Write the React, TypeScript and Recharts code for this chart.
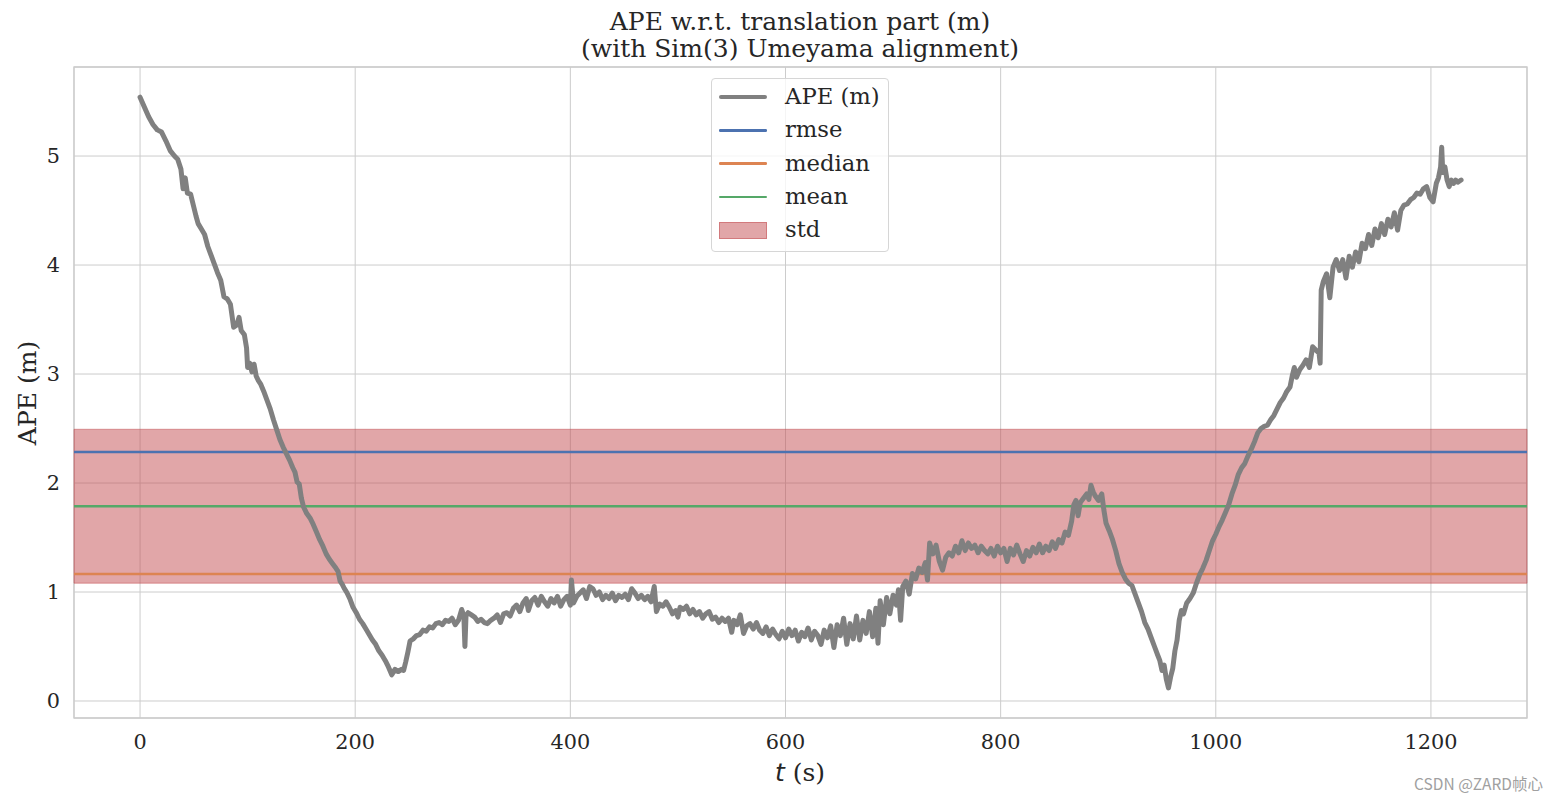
import React from 'react';
import {
  LineChart,
  Line,
  XAxis,
  YAxis,
  CartesianGrid,
  ReferenceArea,
  ReferenceLine,
} from 'recharts';

// APE over time
const times = [
  0, 4, 8, 12, 16, 20, 24, 28, 32, 35, 38, 40, 42, 44, 47, 50, 52, 54, 57, 60, 63, 66, 69, 72, 75, 78, 81, 84, 87, 90,
  92, 94, 97, 99, 100, 102, 104, 106, 108, 110, 112, 115, 118, 121, 124, 127, 130, 133, 136, 139, 142, 144, 146, 148,
  150, 152, 155, 158, 161, 164, 167, 170, 173, 176, 179, 182, 184, 186, 188, 190, 192, 195, 198, 201, 204, 207, 210,
  213, 216, 219, 222, 225, 228, 231, 234, 237, 240, 243, 245, 247, 249, 251, 254, 257, 260, 263, 266, 269, 272, 275,
  278, 281, 284, 287, 290, 293, 296, 299, 301, 302, 303, 305, 308, 311, 314, 317, 320, 323, 326, 329, 332, 335, 338,
  341, 344, 347, 350, 353, 356, 359, 361, 364, 367, 370, 373, 376, 379, 382, 385, 388, 391, 394, 397, 400, 401, 403,
  406, 409, 412, 415, 418, 421, 424, 427, 430, 433, 436, 439, 442, 445, 448, 451, 454, 457, 460, 463, 466, 469, 472,
  475, 478, 480, 483, 486, 489, 492, 495, 498, 500, 502, 505, 508, 511, 514, 517, 520, 523, 526, 529, 532, 535, 538,
  541, 544, 547, 550, 552, 555, 558, 561, 564, 567, 570, 573, 576, 579, 582, 585, 588, 591, 594, 597, 600, 603, 606,
  609, 612, 615, 618, 621, 624, 627, 630, 633, 636, 639, 642, 645, 648, 651, 654, 657, 660, 663, 666, 669, 672, 675,
  678, 681, 684, 686, 688, 691, 694, 697, 700, 703, 705, 707, 709, 712, 715, 718, 721, 724, 727, 730, 732, 734, 737,
  740, 743, 746, 749, 752, 755, 758, 761, 764, 767, 770, 773, 776, 779, 782, 785, 788, 791, 794, 797, 800, 803, 806,
  809, 812, 815, 818, 821, 824, 827, 830, 833, 836, 839, 842, 845, 848, 851, 854, 857, 860, 863, 866, 868, 870, 872,
  874, 877, 880, 882, 884, 886, 888, 891, 894, 896, 898, 901, 904, 907, 910, 913, 916, 919, 922, 925, 928, 931, 934,
  937, 940, 943, 946, 948, 950, 952, 954, 956, 958, 960, 962, 964, 966, 968, 970, 973, 976, 979, 982, 985, 988, 991,
  994, 997, 1000, 1003, 1006, 1009, 1012, 1015, 1018, 1021, 1024, 1027, 1030, 1033, 1036, 1039, 1042, 1045, 1048,
  1051, 1054, 1057, 1060, 1063, 1066, 1069, 1071, 1073, 1075, 1078, 1081, 1084, 1087, 1090, 1093, 1096, 1097, 1098,
  1100, 1103, 1106, 1109, 1112, 1115, 1118, 1121, 1124, 1127, 1130, 1133, 1136, 1139, 1142, 1145, 1148, 1151, 1154,
  1157, 1160, 1163, 1166, 1169, 1172, 1175, 1178, 1181, 1184, 1187, 1190, 1193, 1196, 1199, 1202, 1205, 1207, 1209,
  1210, 1211, 1213, 1215, 1217, 1219, 1221, 1223, 1225, 1228,
];

const apeValues = [
  5.54, 5.45, 5.36, 5.29, 5.24, 5.22, 5.14, 5.05, 5.0, 4.97, 4.88, 4.7, 4.8, 4.66, 4.65, 4.53, 4.45, 4.38, 4.33, 4.28,
  4.17, 4.09, 4.01, 3.93, 3.86, 3.71, 3.69, 3.64, 3.43, 3.45, 3.52, 3.4, 3.36, 3.24, 3.06, 3.1, 3.02, 3.09, 2.98, 2.94,
  2.91, 2.84, 2.76, 2.68, 2.58, 2.49, 2.4, 2.33, 2.27, 2.21, 2.14, 2.1, 2.01, 1.99, 1.86, 1.78, 1.72, 1.68, 1.62, 1.55,
  1.48, 1.42, 1.35, 1.3, 1.26, 1.22, 1.19, 1.1, 1.07, 1.03, 1.0, 0.94, 0.86, 0.81, 0.75, 0.71, 0.66, 0.61, 0.56, 0.52,
  0.46, 0.42, 0.37, 0.31, 0.24, 0.29, 0.27, 0.29, 0.28, 0.36, 0.45, 0.55, 0.57, 0.6, 0.61, 0.65, 0.64, 0.68, 0.67, 0.71,
  0.72, 0.7, 0.74, 0.73, 0.76, 0.7, 0.74, 0.84, 0.78, 0.5, 0.78, 0.81, 0.79, 0.77, 0.73, 0.75, 0.72, 0.71, 0.74, 0.76,
  0.79, 0.72, 0.8, 0.81, 0.78, 0.85, 0.88, 0.82, 0.9, 0.94, 0.83, 0.92, 0.95, 0.88, 0.96, 0.91, 0.87, 0.94, 0.9, 0.96,
  0.87, 0.93, 0.96, 0.88, 1.11, 0.9, 0.96, 0.99, 1.02, 0.94, 1.05, 1.03, 0.97, 1.0, 0.93, 0.97, 0.94, 0.99, 0.92, 0.97,
  0.95, 0.98, 0.93, 1.03, 0.99, 0.94, 0.97, 0.93, 0.96, 0.91, 1.05, 0.82, 0.89, 0.87, 0.91, 0.86, 0.8, 0.83, 0.77,
  0.86, 0.84, 0.87, 0.8, 0.84, 0.79, 0.82, 0.76, 0.8, 0.82, 0.75, 0.77, 0.72, 0.76, 0.73, 0.76, 0.63, 0.74, 0.7, 0.79,
  0.62, 0.69, 0.71, 0.66, 0.72, 0.65, 0.62, 0.68, 0.6, 0.66, 0.61, 0.57, 0.64, 0.58, 0.66, 0.6, 0.65, 0.55, 0.63, 0.59,
  0.67, 0.56, 0.64, 0.6, 0.52, 0.65, 0.58, 0.69, 0.49, 0.7, 0.6, 0.76, 0.52, 0.71, 0.57, 0.78, 0.56, 0.74, 0.62, 0.82,
  0.59, 0.85, 0.53, 0.92, 0.7, 0.95, 0.8, 0.97, 0.88, 1.02, 0.74, 1.05, 1.1, 0.98, 1.17, 1.12, 1.22, 1.18, 1.27, 1.11,
  1.45, 1.35, 1.43, 1.28, 1.2, 1.32, 1.36, 1.33, 1.42, 1.36, 1.47, 1.38, 1.45, 1.4, 1.43, 1.36, 1.42, 1.38, 1.35, 1.4,
  1.33, 1.42, 1.36, 1.4, 1.28, 1.4, 1.34, 1.43, 1.35, 1.28, 1.38, 1.33, 1.41, 1.36, 1.44, 1.36, 1.42, 1.38, 1.46, 1.4,
  1.48, 1.45, 1.55, 1.52, 1.65, 1.8, 1.84, 1.7, 1.82, 1.86, 1.9, 1.85, 1.98, 1.92, 1.88, 1.84, 1.9, 1.75, 1.63, 1.56,
  1.48, 1.38, 1.26, 1.18, 1.12, 1.08, 1.06, 0.98, 0.9, 0.82, 0.72, 0.66, 0.58, 0.5, 0.42, 0.37, 0.28, 0.33, 0.2, 0.12,
  0.22, 0.3, 0.46, 0.56, 0.74, 0.83, 0.8, 0.9, 0.94, 0.99, 1.08, 1.16, 1.22, 1.29, 1.38, 1.47, 1.53, 1.6, 1.66, 1.73,
  1.8, 1.9, 1.98, 2.08, 2.14, 2.18, 2.25, 2.31, 2.38, 2.46, 2.5, 2.52, 2.53, 2.58, 2.62, 2.68, 2.74, 2.78, 2.84, 2.88,
  2.98, 3.06, 2.97, 3.04, 3.08, 3.13, 3.06, 3.25, 3.22, 3.19, 3.1, 3.77, 3.85, 3.92, 3.7, 3.98, 4.05, 3.95, 4.05, 3.88,
  4.08, 3.98, 4.12, 4.03, 4.2, 4.15, 4.28, 4.18, 4.33, 4.25, 4.38, 4.28, 4.42, 4.35, 4.48, 4.32, 4.5, 4.55, 4.56, 4.6,
  4.62, 4.66, 4.65, 4.7, 4.72, 4.62, 4.58, 4.75, 4.8, 4.9, 5.08, 4.85, 4.9, 4.78, 4.72, 4.78, 4.75, 4.78, 4.76, 4.78,
];

// summary statistics
const rmse = 2.284;
const median = 1.165;
const mean = 1.787;
const std = 0.706;

const xTicks = [0, 200, 400, 600, 800, 1000, 1200];
const yTicks = [0, 1, 2, 3, 4, 5];
const xDomain = [-61.4, 1289.3];
const yDomain = [-0.156, 5.817];

const legendItems = [
  { label: 'APE (m)', color: '#808080', kind: 'line', width: 4 },
  { label: 'rmse', color: '#4c72b0', kind: 'line', width: 2.5 },
  { label: 'median', color: '#dd8452', kind: 'line', width: 2.5 },
  { label: 'mean', color: '#55a868', kind: 'line', width: 2.5 },
  { label: 'std', color: '#c44e52', kind: 'patch', width: 0 },
];

const SERIF = '"DejaVu Serif", serif';
const W = 1541;
const H = 785;

const data = times.map((t, i) => ({ t, ape: apeValues[i] }));

function StatLegend() {
  return (
    <div
      style={{
        position: 'absolute',
        left: 703,
        top: 70,
        width: 176,
        height: 172,
        border: '1px solid #d6d6d6',
        borderRadius: 4,
        background: 'rgba(255,255,255,0.8)',
        fontSize: 22.7,
        color: '#262626',
      }}
    >
      {legendItems.map((it, i) => (
        <div key={it.label} style={{ position: 'absolute', left: 0, top: 18 + i * 33.3 - 16, height: 32, width: 176 }}>
          {it.kind === 'line' ? (
            <div
              style={{
                position: 'absolute',
                left: 7,
                top: 16 - it.width / 2,
                width: 48,
                height: it.width,
                borderRadius: it.width / 2,
                background: it.color,
              }}
            />
          ) : (
            <div
              style={{
                position: 'absolute',
                left: 7,
                top: 8,
                width: 46,
                height: 15,
                background: 'rgba(196,78,82,0.5)',
                border: '1px solid rgba(196,78,82,0.5)',
              }}
            />
          )}
          <span style={{ position: 'absolute', left: 73, top: 16, transform: 'translateY(-55%)', whiteSpace: 'nowrap' }}>
            {it.label}
          </span>
        </div>
      ))}
    </div>
  );
}

export default function App() {
  return (
    <div style={{ position: 'relative', width: W, height: H, background: '#fff', fontFamily: SERIF }}>
      <div
        style={{
          position: 'absolute',
          left: 292,
          width: 1000,
          top: 0,
          textAlign: 'center',
          fontSize: 25,
          lineHeight: '27px',
          color: '#262626',
        }}
      >
        <div>APE w.r.t. translation part (m)</div>
        <div>(with Sim(3) Umeyama alignment)</div>
      </div>

      <LineChart width={W} height={H} data={data} margin={{ top: 59, right: 22, bottom: 45, left: 16 }}>
        <CartesianGrid stroke="#cccccc" strokeWidth={1} />
        <ReferenceArea
          x1={xDomain[0]}
          x2={xDomain[1]}
          y1={yDomain[0]}
          y2={yDomain[1]}
          fill="none"
          stroke="#cccccc"
          strokeWidth={1.3}
          fillOpacity={0}
        />
        <ReferenceArea
          x1={xDomain[0]}
          x2={xDomain[1]}
          y1={mean - std}
          y2={mean + std}
          fill="#c44e52"
          fillOpacity={0.5}
          stroke="#c44e52"
          strokeOpacity={0.5}
        />
        <ReferenceLine y={rmse} stroke="#4c72b0" strokeWidth={2.5} />
        <ReferenceLine y={median} stroke="#dd8452" strokeWidth={2.5} />
        <ReferenceLine y={mean} stroke="#55a868" strokeWidth={2.5} />
        <XAxis
          dataKey="t"
          type="number"
          domain={xDomain}
          ticks={xTicks}
          allowDataOverflow
          axisLine={false}
          tickLine={false}
          tickSize={0}
          tickMargin={16}
          height={30}
          tick={{ fontSize: 20.8, fill: '#262626', fontFamily: SERIF }}
        />
        <YAxis
          type="number"
          domain={yDomain}
          ticks={yTicks}
          allowDataOverflow
          axisLine={false}
          tickLine={false}
          tickSize={0}
          tickMargin={14}
          width={50}
          tick={{ fontSize: 20.8, fill: '#262626', fontFamily: SERIF }}
        />
        <Line
          type="linear"
          dataKey="ape"
          stroke="#808080"
          strokeWidth={5}
          strokeLinejoin="round"
          strokeLinecap="round"
          dot={false}
          activeDot={false}
          isAnimationActive={false}
        />
      </LineChart>

      <StatLegend />

      <div
        style={{
          position: 'absolute',
          left: 19,
          top: 385,
          transform: 'translate(-50%, -50%) rotate(-90deg)',
          fontSize: 25,
          color: '#262626',
          whiteSpace: 'nowrap',
        }}
      >
        APE (m)
      </div>
      <div
        style={{
          position: 'absolute',
          left: 792,
          top: 764,
          transform: 'translate(-50%, -50%)',
          fontSize: 25,
          color: '#262626',
          whiteSpace: 'nowrap',
        }}
      >
        <i style={{ fontFamily: '"DejaVu Sans", sans-serif' }}>t</i> (s)
      </div>
      <div
        style={{
          position: 'absolute',
          right: 6,
          top: 764,
          fontSize: 15.5,
          color: '#a0a0a0',
          fontFamily: '"Noto Sans CJK SC", "Noto Sans", sans-serif',
          whiteSpace: 'nowrap',
        }}
      >
        CSDN @ZARD帧心
      </div>
    </div>
  );
}
